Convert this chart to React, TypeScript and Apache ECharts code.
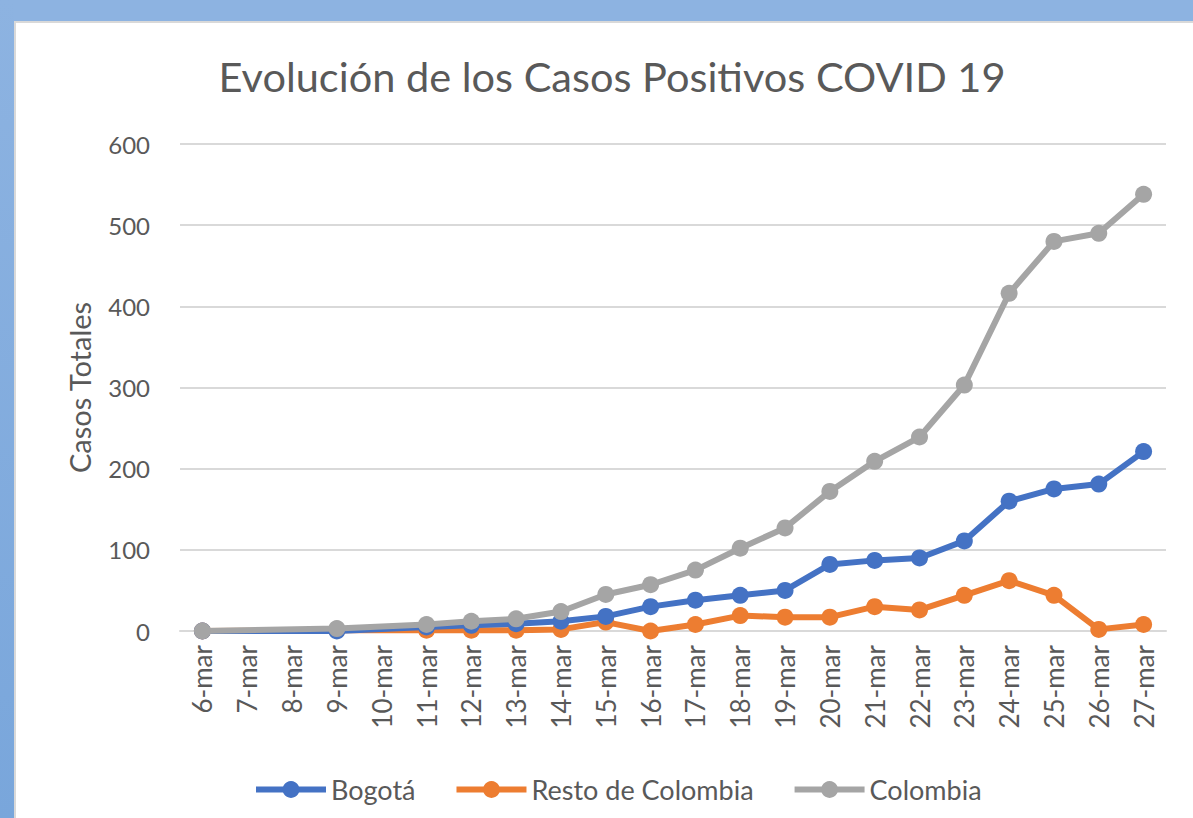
import React, { useEffect, useRef } from "react";
import * as echarts from "echarts";

const categories = [
  "6-mar", "7-mar", "8-mar", "9-mar", "10-mar", "11-mar", "12-mar", "13-mar",
  "14-mar", "15-mar", "16-mar", "17-mar", "18-mar", "19-mar", "20-mar",
  "21-mar", "22-mar", "23-mar", "24-mar", "25-mar", "26-mar", "27-mar",
];

const bogota = [0, null, null, 0, null, 5, 7, 9, 12, 18, 30, 38, 44, 50, 82, 87, 90, 111, 160, 175, 181, 221];
const resto = [0, null, null, 1, null, 1, 1, 1, 2, 11, 0, 8, 19, 17, 17, 30, 26, 44, 62, 44, 2, 8];
const colombia = [0, null, null, 3, null, 8, 12, 15, 24, 45, 57, 75, 102, 127, 172, 209, 239, 303, 416, 480, 490, 538];

const yTicks = { min: 0, max: 600, interval: 100 };

const FONT = "Lato, 'Open Sans', sans-serif";
const TXT = "#595959";

export default function App() {
  const ref = useRef<HTMLDivElement>(null);
  useEffect(() => {
    document.body.style.margin = "0";
    const chart = echarts.init(ref.current!, null, { renderer: "svg" });
    const mk = (name: string, data: (number | null)[], color: string, z: number) => ({
      name,
      type: "line",
      data,
      connectNulls: true,
      symbol: "circle",
      symbolSize: 17,
      z,
      lineStyle: { width: 6, color },
      itemStyle: { color },
    });
    chart.setOption({
      animation: false,
      backgroundColor: "#ffffff",
      textStyle: { fontFamily: FONT },
      graphic: [
        { type: "rect", z: -10, shape: { x: 0, y: 0, width: 1193, height: 21 }, style: { fill: "#8DB3E1" } },
        {
          type: "rect", z: -10, shape: { x: 0, y: 0, width: 14, height: 818 },
          style: {
            fill: new echarts.graphic.LinearGradient(0, 0, 0, 1, [
              { offset: 0, color: "#8DB3E1" },
              { offset: 1, color: "#79A6DB" },
            ]),
          },
        },
        { type: "rect", z: -10, shape: { x: 15, y: 22, width: 1180, height: 800 }, style: { fill: "none", stroke: "#D9D9D9", lineWidth: 2 } },
      ],
      title: {
        text: "Evolución de los Casos Positivos COVID 19",
        left: 607,
        textAlign: "center",
        top: 50,
        textStyle: { fontSize: 41.5, fontWeight: "normal", color: TXT, fontFamily: FONT },
      },
      legend: {
        bottom: 10,
        left: 248,
        itemWidth: 70,
        itemHeight: 21,
        itemGap: 38,
        lineStyle: { width: 6 },
        textStyle: { fontSize: 27, color: TXT, fontFamily: FONT },
        data: ["Bogotá", "Resto de Colombia", "Colombia"],
      },
      grid: { left: 180, right: 27, top: 144, bottom: 187 },
      xAxis: {
        type: "category",
        data: categories,
        boundaryGap: true,
        axisLine: { lineStyle: { color: "#D9D9D9", width: 2 } },
        axisTick: { show: false },
        axisLabel: { rotate: 90, fontSize: 26, color: TXT, margin: 14, interval: 0, fontFamily: FONT },
      },
      yAxis: {
        type: "value",
        min: yTicks.min,
        max: yTicks.max,
        interval: yTicks.interval,
        name: "Casos Totales",
        nameLocation: "middle",
        nameGap: 86,
        nameTextStyle: { fontSize: 29, color: TXT, fontFamily: FONT },
        axisLine: { show: false },
        axisTick: { show: false },
        axisLabel: { fontSize: 24, color: TXT, margin: 30, fontFamily: FONT },
        splitLine: { lineStyle: { color: "#D9D9D9", width: 2 } },
      },
      series: [
        mk("Bogotá", bogota, "#4472C4", 3),
        mk("Resto de Colombia", resto, "#ED7D31", 2),
        mk("Colombia", colombia, "#A5A5A5", 4),
      ],
    });
    return () => chart.dispose();
  }, []);
  return <div ref={ref} style={{ width: 1193, height: 818 }} />;
}
